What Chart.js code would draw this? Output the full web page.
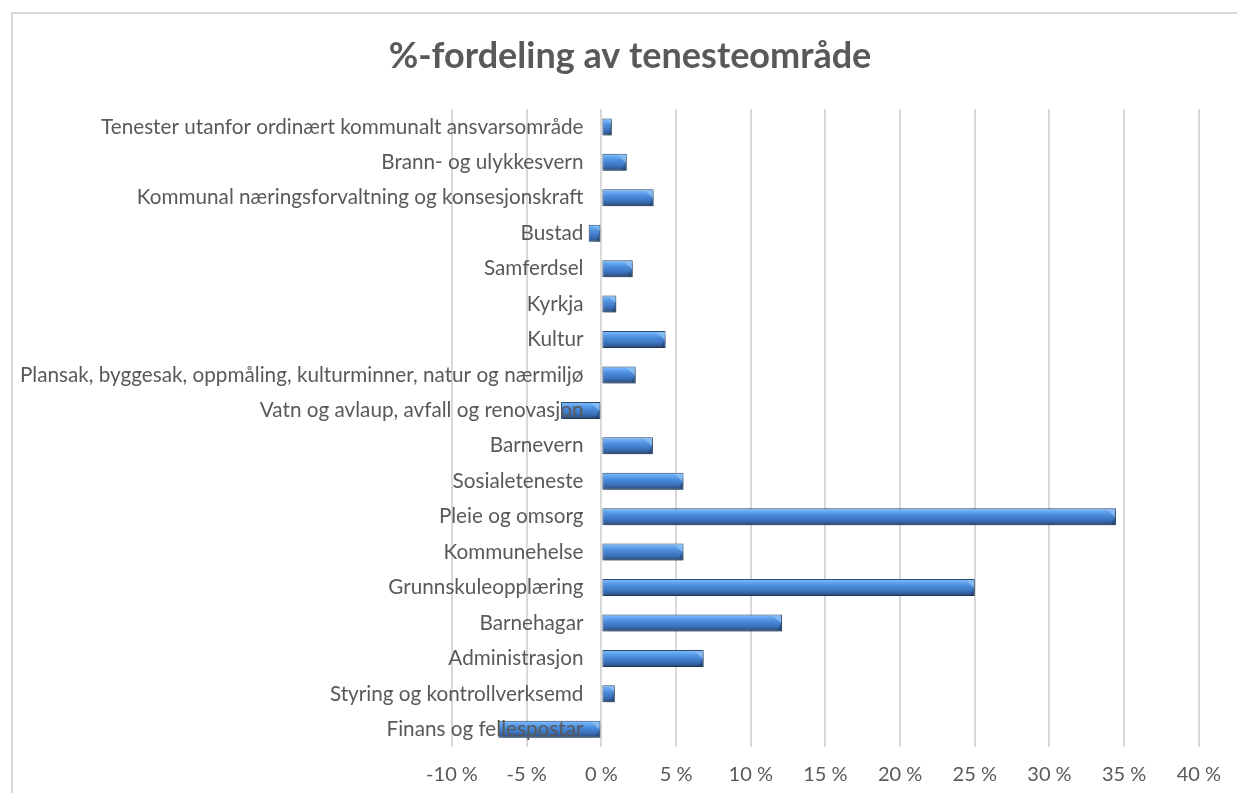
<!DOCTYPE html>
<html>
<head>
<meta charset="utf-8">
<script src="https://cdn.jsdelivr.net/npm/chart.js@4.4.0/dist/chart.umd.min.js"></script>
<style>
  html, body { margin: 0; padding: 0; background: #fff; overflow: hidden; }
  #wrap { position: relative; width: 1237px; height: 793px; }
  #frame { position: absolute; left: 11px; top: 12px; width: 1300px; height: 900px;
           border: 2px solid #d9d9d9; box-sizing: border-box; }
  canvas { position: absolute; left: 0; top: 0; }
</style>
</head>
<body>
<div id="wrap">
  <div id="frame"></div>
  <canvas id="chart" width="1237" height="793"></canvas>
</div>
<script>
/*************** Data ****************/

var categories = [
    "Tenester utanfor ordinært kommunalt ansvarsområde",
    "Brann- og ulykkesvern",
    "Kommunal næringsforvaltning og konsesjonskraft",
    "Bustad",
    "Samferdsel",
    "Kyrkja",
    "Kultur",
    "Plansak, byggesak, oppmåling, kulturminner, natur og nærmiljø",
    "Vatn og avlaup, avfall og renovasjon",
    "Barnevern",
    "Sosialeteneste",
    "Pleie og omsorg",
    "Kommunehelse",
    "Grunnskuleopplæring",
    "Barnehagar",
    "Administrasjon",
    "Styring og kontrollverksemd",
    "Finans og fellespostar"
];
var shares = [0.7, 1.7, 3.5, -0.85, 2.1, 1.0, 4.3, 2.3, -2.7, 3.45, 5.5, 34.45, 5.5, 25.0, 12.1, 6.85, 0.9, -6.9];
var xTicks = [-10, -5, 0, 5, 10, 15, 20, 25, 30, 35, 40];

var BAR_PCT = 0.48;
var TEXT = "#595959";

/*************** Bar styling ****************/

function barFill(context) {
    var chart = context.chart;
    var area = chart.chartArea;
    if (!area || !chart.scales.y) return "#4a8ad8";
    var cy = chart.scales.y.getPixelForValue(context.dataIndex);
    var half = (area.bottom - area.top) / categories.length * BAR_PCT / 2;
    var g = chart.ctx.createLinearGradient(0, cy - half, 0, cy + half);
    g.addColorStop(0, "#9cc2ea");
    g.addColorStop(0.1, "#74b3f6");
    g.addColorStop(0.22, "#5fa2ee");
    g.addColorStop(0.42, "#4a8ad8");
    g.addColorStop(0.65, "#3e78c4");
    g.addColorStop(0.85, "#335e9c");
    g.addColorStop(1, "#26456e");
    return g;
}

var bevelPlugin = {
    id: "bevel",
    beforeDatasetsDraw: function (chart) {
        var ctx = chart.ctx;
        ctx.save();
        ctx.shadowColor = "rgba(0,0,0,0.35)";
        ctx.shadowBlur = 5;
        ctx.shadowOffsetX = 2;
        ctx.shadowOffsetY = 3;
    },
    afterDatasetsDraw: function (chart) {
        var ctx = chart.ctx;
        ctx.restore();
        chart.getDatasetMeta(0).data.forEach(function (bar) {
            var p = bar.getProps(["x", "y", "base", "height"], true);
            var left = Math.min(p.x, p.base), right = Math.max(p.x, p.base);
            var top = p.y - p.height / 2, bottom = p.y + p.height / 2;
            var cut = Math.min(p.height * 0.5, (right - left) / 2);
            ctx.save();
            // light chamfer on the right end
            ctx.fillStyle = "rgba(140,190,242,0.85)";
            ctx.beginPath();
            ctx.moveTo(right - cut - 1, top + 1);
            ctx.lineTo(right - 1, top + 1);
            ctx.lineTo(right - 1, top + cut);
            ctx.closePath();
            ctx.fill();
            // darker lower end
            ctx.fillStyle = "rgba(20,45,85,0.35)";
            ctx.beginPath();
            ctx.moveTo(right - 1, top + cut);
            ctx.lineTo(right - 1, bottom - 1);
            ctx.lineTo(right - cut * 0.6, bottom - 1);
            ctx.closePath();
            ctx.fill();
            ctx.restore();
        });
    }
};

/*************** Creating chart ****************/

var chart = new Chart(document.getElementById("chart"), {
    type: "bar",
    data: {
        labels: categories,
        datasets: [
            {
                data: shares,
                yAxisID: "y",
                backgroundColor: barFill,
                borderColor: "#2a4a72",
                borderWidth: 1,
                borderSkipped: false,
                barPercentage: BAR_PCT,
                categoryPercentage: 1
            }
        ]
    },
    options: {
        indexAxis: "y",
        responsive: false,
        animation: false,
        devicePixelRatio: 1,
        layout: { padding: { left: 58, right: 35, top: 0, bottom: 6 } },
        plugins: {
            legend: { display: false },
            tooltip: { enabled: false },
            title: {
                display: true,
                text: "%-fordeling av tenesteområde",
                color: TEXT,
                font: { family: "Lato", size: 36, weight: "bold" },
                padding: { top: 35, bottom: 31 }
            }
        },
        scales: {
            y: {
                type: "category",
                position: { x: -1.2 },
                grid: { display: false, drawTicks: false },
                border: { display: false },
                ticks: {
                    z: 1, // labels sit on top of the bars, as in the original
                    color: TEXT,
                    padding: 0,
                    autoSkip: false,
                    font: { family: "Lato", size: 20.7 }
                }
            },
            gap: {
                type: "linear",
                position: "left",
                grid: { display: false, drawTicks: false },
                border: { display: false },
                ticks: { display: false },
                afterFit: function (scale) { scale.width = 394; }
            },
            x: {
                type: "linear",
                position: "bottom",
                min: -10,
                max: 40,
                afterBuildTicks: function (scale) {
                    scale.ticks = xTicks.map(function (v) { return { value: v }; });
                },
                afterFit: function (scale) { scale.height = 40; },
                grid: { color: "#d9d9d9", lineWidth: 2, drawTicks: false },
                border: { display: false },
                ticks: {
                    color: TEXT,
                    padding: 16,
                    font: { family: "Lato", size: 20 },
                    callback: function (v) { return v + " %"; }
                }
            }
        }
    },
    plugins: [bevelPlugin]
});
</script>
</body>
</html>
